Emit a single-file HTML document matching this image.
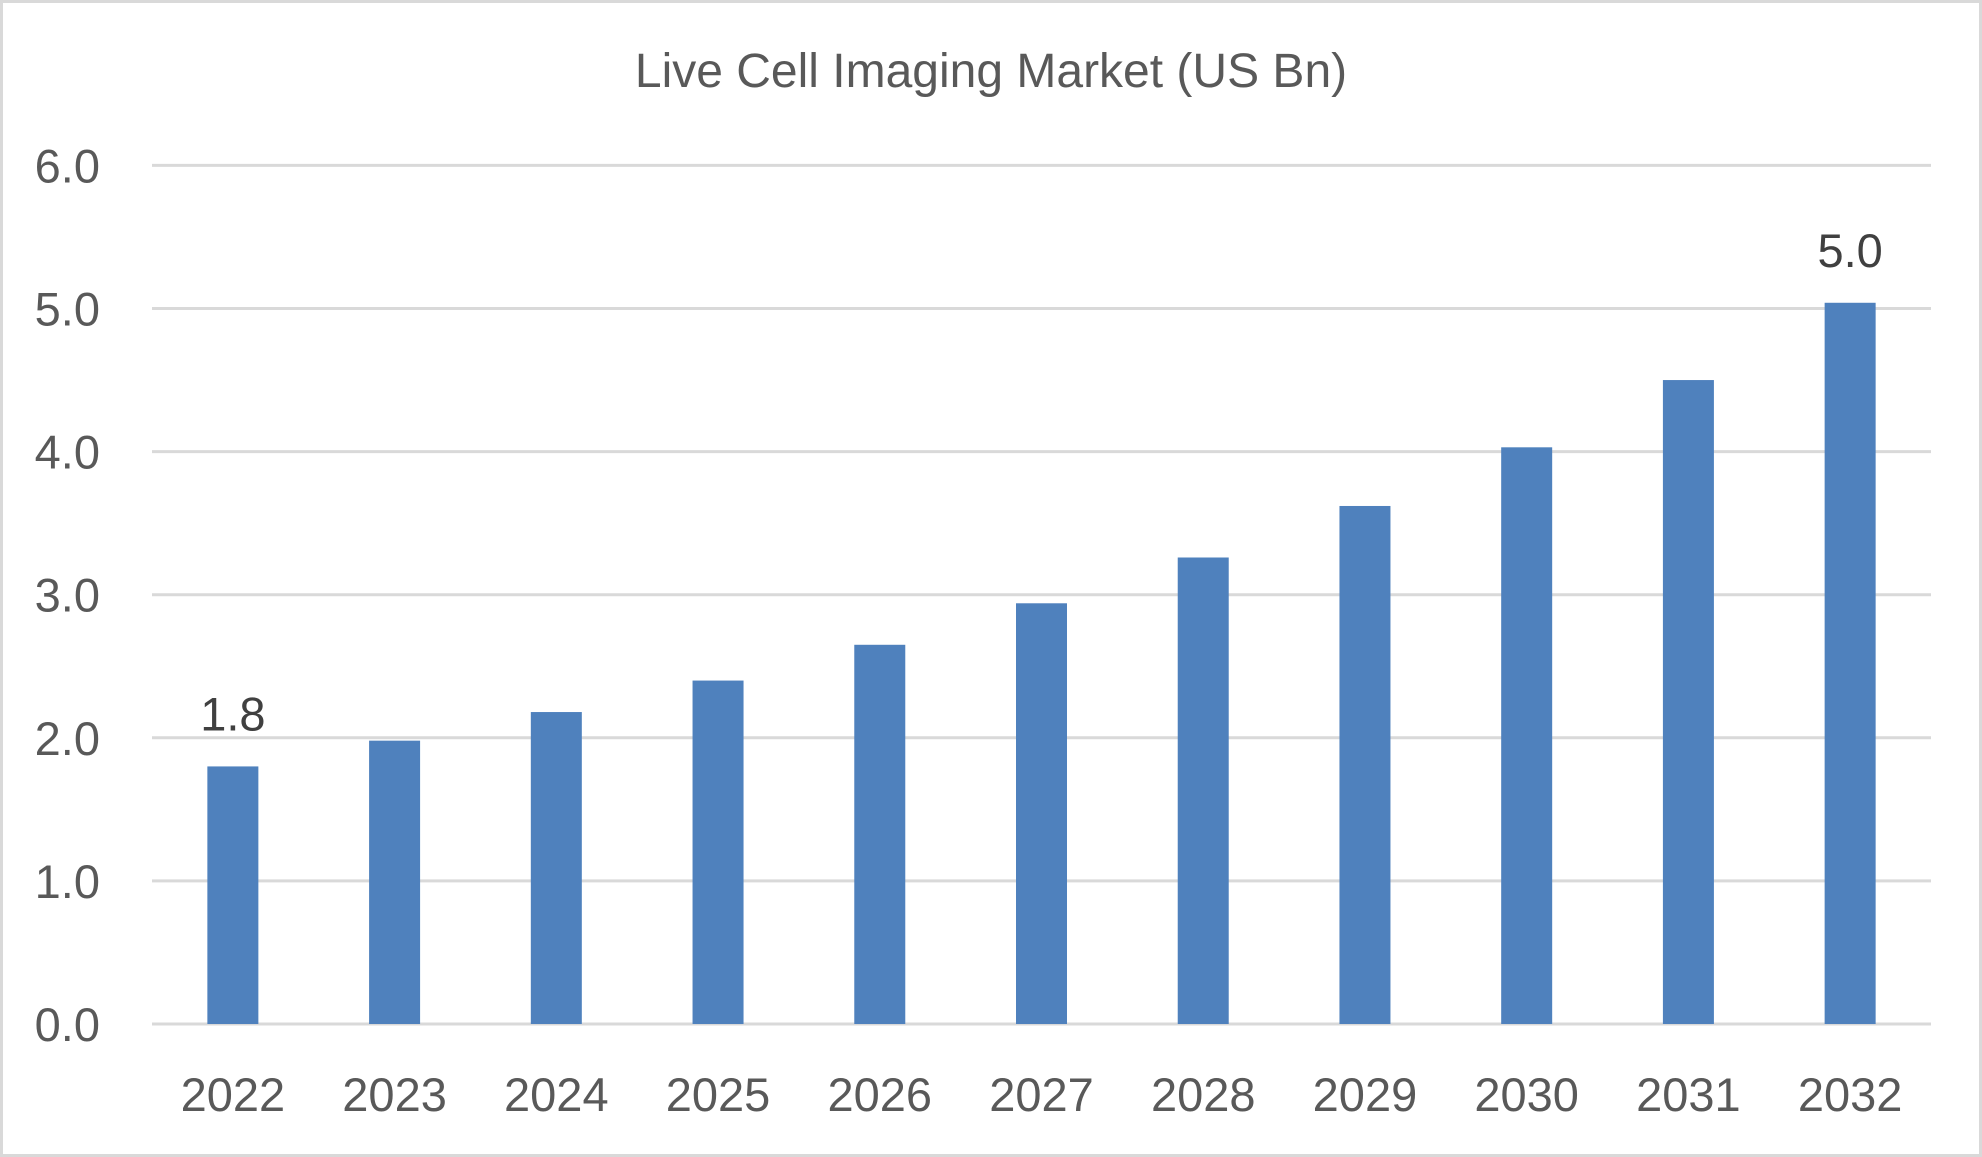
<!DOCTYPE html>
<html><head><meta charset="utf-8"><style>
html,body{margin:0;padding:0;background:#fff;}
svg{display:block;}
text{font-family:"Liberation Sans",sans-serif;}
</style></head><body>
<svg id="chart" width="1982" height="1157" viewBox="0 0 1982 1157" xmlns="http://www.w3.org/2000/svg">
<rect x="1.5" y="1.5" width="1979" height="1154" fill="#fff" stroke="#d9d9d9" stroke-width="3"/>
<text x="991" y="87" text-anchor="middle" font-size="48" fill="#595959">Live Cell Imaging Market (US Bn)</text>
<g id="grid"></g><g id="bars"></g><g id="labels"></g>
</svg>
<script>
const categories=["2022","2023","2024","2025","2026","2027","2028","2029","2030","2031","2032"];
const values=[1.8,1.98,2.18,2.4,2.65,2.94,3.26,3.62,4.03,4.5,5.04];
const dataLabels=["1.8","","","","","","","","","","5.0"];
const yTicks=[0,1,2,3,4,5,6];
const yTickLabels=["0.0","1.0","2.0","3.0","4.0","5.0","6.0"];
const NS="http://www.w3.org/2000/svg";
const X0=152,X1=1931,Y0=1024,UNIT=143.1;
const step=(X1-X0)/categories.length;
function xs(i){return X0+step*(i+0.5);}
function ys(v){return Y0-v*UNIT;}
function mk(t,a,p){const e=document.createElementNS(NS,t);for(const k in a)e.setAttribute(k,a[k]);p.appendChild(e);return e;}
const g=document.getElementById('grid'),b=document.getElementById('bars'),l=document.getElementById('labels');
yTicks.forEach((v,i)=>{
 const ln=mk('line',{x1:X0,x2:X1,y1:ys(v),y2:ys(v),stroke:'#d9d9d9','stroke-width':3},g);
 
 
 const t=mk('text',{x:100,y:ys(v)+17,'text-anchor':'end','font-size':47,fill:'#595959'},g);
 t.textContent=yTickLabels[i];
 
 
});
categories.forEach((c,i)=>{
 const r=mk('rect',{x:xs(i)-25.5,y:ys(values[i]),width:51,height:Y0-ys(values[i]),fill:'#4f81bd'},b);
 
 
 const t=mk('text',{x:xs(i),y:1111,'text-anchor':'middle','font-size':47,fill:'#595959'},l);
 t.textContent=c;
 
 
 if(dataLabels[i]){
  const d=mk('text',{x:xs(i),y:ys(values[i])-36,'text-anchor':'middle','font-size':47,fill:'#404040'},l);
  d.textContent=dataLabels[i];
  
  
 }
});
</script>
</body></html>
